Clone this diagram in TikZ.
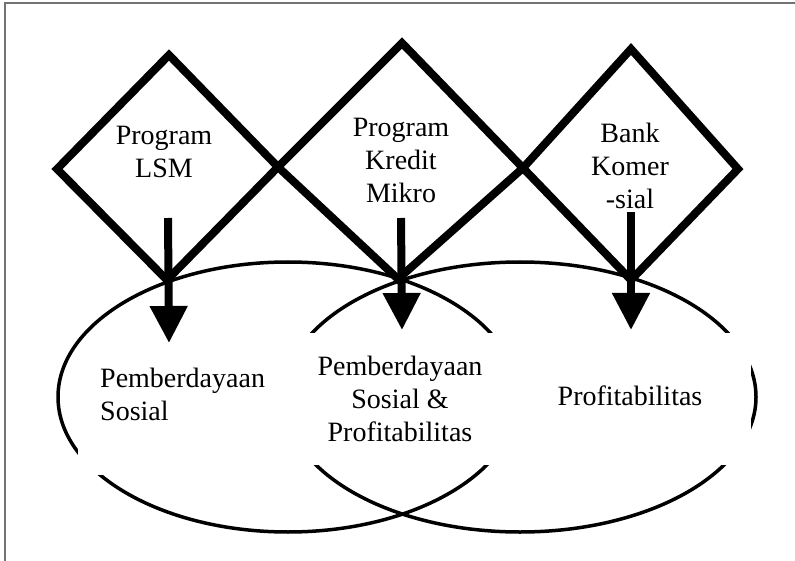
\documentclass[tikz,border=0pt]{standalone}
\usepackage{fontspec}
\setmainfont{Liberation Serif}
\usetikzlibrary{arrows.meta}
\begin{document}
\begin{tikzpicture}[x=1pt,y=-1pt,
  frameline/.style={draw=black!55, line width=1.5pt},
  kite/.style={draw=black, line width=8pt, line join=miter, miter limit=10},
  ring/.style={draw=black, line width=3.5pt},
  blank/.style={fill=white},
  flow/.style={draw=black, line width=8pt, -{Triangle[width=36pt,length=37pt]}},
  lbl/.style={font=\fontsize{28}{33}\selectfont, inner sep=0pt, align=center},
]
\useasboundingbox (0,0) rectangle (795,561);
\fill[white] (0,0) rectangle (795,561);
% page frame (top and left edges)
\draw[frameline] (5,561) -- (5,3) -- (795,3);

% two overlapping ellipses
\draw[ring] (288,397) ellipse [x radius=230pt, y radius=135pt];
\draw[ring] (520,397) ellipse [x radius=236pt, y radius=135pt];

% white backgrounds behind the lower labels
\fill[blank] (78,345) rectangle (300,475);
\fill[blank] (296,333) rectangle (751,465);

% three interlocking diamonds drawn as one zigzag outline
\coordinate (lw) at (57,169);
\coordinate (lt) at (169,55);
\coordinate (x1) at (278,167);
\coordinate (mb) at (398,279);
\coordinate (x2) at (523,168);
\coordinate (rt) at (631,49);
\coordinate (re) at (738,169);
\coordinate (rb) at (631,280);
\coordinate (mt) at (402,43);
\coordinate (lb) at (167,280);
\draw[kite] (lw) -- (lt) -- (x1) -- (mb) -- (x2) -- (rt) -- (re) -- (rb)
  -- (x2) -- (mt) -- (x1) -- (lb) -- cycle;

% diamond labels
\node[lbl, anchor=north] (lsm) at (164,126) {Program\\LSM};
\node[lbl, anchor=north] (kredit) at (401,118) {Program\\Kredit\\Mikro};
\node[lbl, anchor=north] (bank) at (630,123) {Bank\\Komer\\-sial};

% ellipse labels
\node[lbl, align=left, anchor=north west] (sosial) at (100,368) {Pemberdayaan\\Sosial};
\node[lbl, anchor=north] (both) at (400,356) {Pemberdayaan\\Sosial \&\\Profitabilitas};
\node[lbl, anchor=base] (profit) at (630,405) {Profitabilitas};

% arrows from each diamond into the ellipses
\coordinate (a1s) at (168,218);
\coordinate (a1e) at (169,343);
\coordinate (a2s) at (401,218);
\coordinate (a2e) at (402,330);
\coordinate (a3s) at (631,212);
\coordinate (a3e) at (631,330);
\draw[flow] (a1s) -- (a1e);
\draw[flow] (a2s) -- (a2e);
\draw[flow] (a3s) -- (a3e);
\end{tikzpicture}
\end{document}
